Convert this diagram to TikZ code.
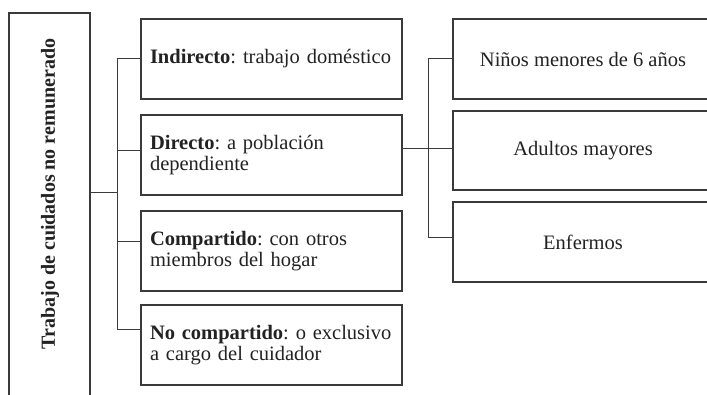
\documentclass[tikz,border=0pt]{standalone}
\usepackage{fontspec}
\setmainfont{Liberation Serif}
\frenchspacing
\definecolor{linegray}{HTML}{3A3A3A}
\definecolor{textgray}{HTML}{222222}
\begin{document}
\begin{tikzpicture}[x=1pt,y=-1pt,
  box/.style={draw=linegray, line width=1.2pt, inner sep=0pt, text=textgray},
  midbox/.style={box, minimum width=261pt, minimum height=80pt, text width=243pt,
    align=left, font=\fontsize{20.5}{21.5}\selectfont},
  rightbox/.style={box, minimum width=260pt, minimum height=80pt,
    align=center, font=\fontsize{20.5}{21.5}\selectfont},
  conn/.style={draw=linegray, line width=1pt}]
\useasboundingbox (0,0) rectangle (707,395);
% left box
\node[box, minimum width=81pt, minimum height=410pt] (L) at (49.5,218) {};
\node[text=textgray, rotate=90, font=\fontsize{20}{21}\selectfont\bfseries] (Ltxt) at (50,194) {Trabajo de cuidados no remunerado};
% middle boxes
\node[midbox] (m1) at (271.5,59) {\textbf{Indirecto}: trabajo doméstico};
\node[midbox] (m2) at (271.5,155) {\textbf{Directo}: a población\\dependiente};
\node[midbox] (m3) at (271.5,251) {\textbf{Compartido}: con otros\\miembros del hogar};
\node[midbox] (m4) at (271.5,345) {\textbf{No compartido}: o exclusivo\\a cargo del cuidador};
% right boxes
\node[rightbox] (r1) at (583,59) {Niños menores de 6 años};
\node[rightbox, minimum height=79pt] (r2) at (583,150.5) {Adultos mayores};
\node[rightbox] (r3) at (583,242) {Enfermos};
% junctions and branch ends
\coordinate (j1) at (117,193);
\coordinate (j2) at (428,149);
\coordinate (m1w) at (m1.west);
\coordinate (m2w) at ([yshift=4pt]m2.west);
\coordinate (m3w) at ([yshift=9pt]m3.west);
\coordinate (m4w) at ([yshift=15pt]m4.west);
\coordinate (m2e) at ([yshift=6pt]m2.east);
\coordinate (r1w) at (r1.west);
\coordinate (r3w) at ([yshift=4pt]r3.west);
% left connectors
\draw[conn] (L.east |- j1) -- (j1);
\draw[conn] (j1 |- m1w) -- (j1 |- m4w);
\draw[conn] (j1 |- m1w) -- (m1w);
\draw[conn] (j1 |- m2w) -- (m2w);
\draw[conn] (j1 |- m3w) -- (m3w);
\draw[conn] (j1 |- m4w) -- (m4w);
% right connectors
\draw[conn] (m2e) -- (r2.west |- m2e);
\draw[conn] (j2 |- r1w) -- (j2 |- r3w);
\draw[conn] (j2 |- r1w) -- (r1w);
\draw[conn] (j2 |- r3w) -- (r3w);
\end{tikzpicture}
\end{document}
